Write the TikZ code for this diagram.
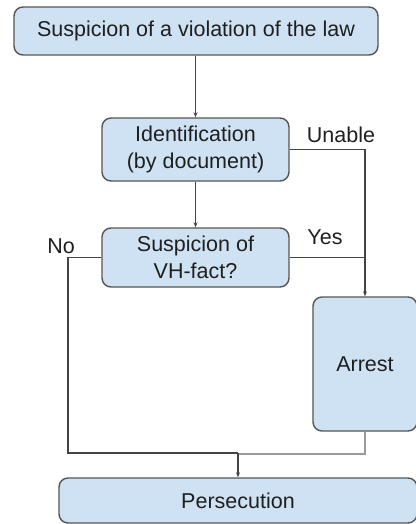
\documentclass[tikz,border=0pt]{standalone}
\usepackage{fontspec}
\setmainfont{Liberation Sans}
\usetikzlibrary{arrows.meta}
\definecolor{boxfill}{HTML}{CFE2F3}
\definecolor{boxline}{HTML}{555555}
\definecolor{wire}{HTML}{444444}
\definecolor{wirelight}{HTML}{9A9A9A}
\begin{document}
\begin{tikzpicture}[x=1pt,y=-1pt,
  stepbox/.style={draw=boxline, fill=boxfill, line width=1.4pt, rounded corners=9pt,
    align=center, inner sep=0pt, font=\fontsize{21.5}{27}\selectfont, text=black!88},
  wireline/.style={draw=wire, line width=1.2pt},
  arr/.style={wireline, -{Stealth[length=5pt,width=4pt]}},
  lbl/.style={font=\fontsize{21.5}{25}\selectfont, text=black!88, inner sep=0pt}]
\useasboundingbox (0,0) rectangle (415,524);

% process boxes
\node[stepbox, minimum width=364pt, minimum height=48pt] (top) at (196,31) {Suspicion of a violation of the law};
\node[stepbox, minimum width=187pt, minimum height=63pt] (ident) at (195.5,149.5) {Identification\\(by document)};
\node[stepbox, minimum width=187pt, minimum height=59pt] (susp) at (195.5,257.5) {Suspicion of\\VH-fact?};
\node[stepbox, minimum width=104pt, minimum height=134pt] (arrest) at (365,364) {Arrest};
\node[stepbox, minimum width=358pt, minimum height=45pt] (pers) at (238,500.5) {Persecution};

% branch labels
\node[lbl] (unable) at (341,135) {Unable};
\node[lbl] (yes) at (325,237) {Yes};
\node[lbl] (no) at (61,246) {No};

% joints of the connectors
\coordinate (nocorner) at (68,257.5);
\coordinate (nobottom) at (68,453);
\coordinate (merge) at (238,453);
\coordinate (arrbottom) at (365,454);
\coordinate (mergelight) at (238,454);

% connectors
\draw[arr] (top.south -| ident.north) -- (ident.north);
\draw[arr] (ident.south) -- (susp.north);
\draw[arr] (ident.east) -| (arrest.north);
\draw[wireline] (susp.east) -- (susp.east -| arrest.north);
\draw[wireline] (susp.west) -- (nocorner) -- (nobottom) -- (merge);
\draw[draw=wirelight, line width=1.2pt] (arrest.south) -- (arrbottom) -- (mergelight);
\draw[arr] (merge) -- (pers.north);
\end{tikzpicture}
\end{document}
